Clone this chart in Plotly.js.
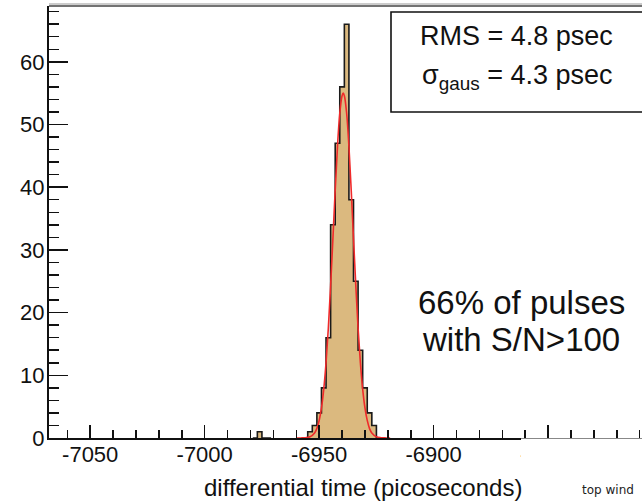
<!DOCTYPE html>
<html>
<head>
<meta charset="utf-8">
<script src="https://cdn.plot.ly/plotly-3.0.1.min.js"></script>
<style>
html,body{margin:0;padding:0;background:#fff;}
#chart{width:642px;height:501px;}
</style>
</head>
<body>
<div id="chart"></div>
<script>
// Histogram: bin left edges (ps) and counts (bin width 2 ps)
var binEdges = [-6979, -6977, -6975, -6973,
  -6957, -6955, -6953, -6951, -6949, -6947, -6945, -6943, -6941, -6939,
  -6937, -6935, -6933, -6931, -6929, -6927, -6925, -6923];
var binCounts = [0, 1, 0, 0,
  0, 1, 2, 4, 8, 16, 34, 47, 56, 66,
  38, 25, 14, 8, 4, 2, 0, 0];
var binWidth = 2;

// Gaussian fit curve
var fitX = [-6960, -6958, -6956, -6954, -6952, -6951, -6950, -6949, -6948, -6947, -6946, -6945,
  -6944, -6943, -6942, -6941, -6940, -6939.5, -6939, -6938, -6937, -6936, -6935, -6934, -6933,
  -6932, -6931, -6930, -6929, -6928, -6927, -6925, -6923, -6921, -6919];
var fitY = [0.0, 0.01, 0.04, 0.19, 0.81, 1.54, 2.79, 4.79, 7.79, 12.0, 17.5, 24.3,
  31.8, 39.5, 46.5, 51.8, 54.6, 55.0, 54.6, 51.8, 46.5, 39.5, 31.8, 24.3, 17.5,
  12.0, 7.8, 4.8, 2.8, 1.5, 0.8, 0.19, 0.04, 0.01, 0.0];

var xTickVals = [-7050, -7000, -6950, -6900, -6850];
var xTickText = ['-7050', '-7000', '-6950', '-6900', '-6850'];
var yTickVals = [0, 10, 20, 30, 40, 50, 60];
var yTickText = ['0', '10', '20', '30', '40', '50', '60'];

var statLines = ['RMS = 4.8 psec', 'σ<sub>gaus</sub> = 4.3 psec'];
var noteLines = ['66% of pulses', 'with S/N>100'];
var xTitle = 'differential time (picoseconds)';
var cornerText = 'top wind';

// Build step outline from bins (only outer outline, like a ROOT histogram)
function stepTrace(edges, counts, w) {
  var xs = [], ys = [];
  var segs = [];
  var cur = null;
  for (var i = 0; i < edges.length; i++) {
    if (cur && Math.abs(edges[i] - cur.end) < 1e-9) {
      cur.e.push(edges[i]); cur.c.push(counts[i]); cur.end = edges[i] + w;
    } else {
      cur = {e: [edges[i]], c: [counts[i]], end: edges[i] + w};
      segs.push(cur);
    }
  }
  segs.forEach(function (s, k) {
    if (k > 0) { xs.push(null); ys.push(null); }
    xs.push(s.e[0]); ys.push(0);
    for (var j = 0; j < s.e.length; j++) {
      xs.push(s.e[j]); ys.push(s.c[j]);
      xs.push(s.e[j] + w); ys.push(s.c[j]);
    }
    xs.push(s.end); ys.push(0);
  });
  return {x: xs, y: ys};
}
var st = stepTrace(binEdges, binCounts, binWidth);

var FONT = 'Liberation Sans, Arial, Helvetica, sans-serif';
var PL = 49, PW = 593, PT = 6, PH = 432;
function px(x) { return (x - PL) / PW; }
function py(y) { return (PT + PH - y) / PH; }

var traces = [
  {
    x: st.x, y: st.y, type: 'scatter', mode: 'lines',
    fill: 'toself', fillcolor: '#dbb97f',
    line: {color: '#1a1a1a', width: 1.6}, hoverinfo: 'skip', connectgaps: false
  },
  {
    x: fitX, y: fitY, type: 'scatter', mode: 'lines',
    line: {color: '#f02a2a', width: 1.6, shape: 'spline'}, hoverinfo: 'skip'
  }
];

var layout = {
  width: 642, height: 501,
  margin: {l: PL, r: 0, t: PT, b: 501 - PT - PH},
  paper_bgcolor: '#ffffff', plot_bgcolor: '#ffffff',
  showlegend: false,
  font: {family: FONT, color: '#111', size: 20},
  xaxis: {
    range: [-7068, -6809],
    tickvals: xTickVals, ticktext: xTickText,
    ticks: 'inside', ticklen: 13, tickwidth: 1.5, tickcolor: '#111',
    minor: {dtick: 10, ticks: 'inside', ticklen: 8, tickwidth: 1.5, tickcolor: '#111', showgrid: false},
    showline: true, linecolor: '#111', linewidth: 2,
    showgrid: false, zeroline: false,
    tickfont: {family: FONT, size: 22, color: '#111'},
    ticklabelstandoff: -4
  },
  yaxis: {
    range: [0, 68.9],
    tickvals: yTickVals, ticktext: yTickText,
    ticks: 'inside', ticklen: 19, tickwidth: 1.5, tickcolor: '#111',
    minor: {dtick: 2, ticks: 'inside', ticklen: 10, tickwidth: 1.5, tickcolor: '#111', showgrid: false},
    showline: true, linecolor: '#111', linewidth: 2,
    showgrid: false, zeroline: false,
    tickfont: {family: FONT, size: 22, color: '#111'},
    ticklabelstandoff: -2
  },
  shapes: [
    // top frame (double grey line)
    {type: 'line', xref: 'paper', yref: 'paper', x0: 0, x1: 1.05, y0: py(4), y1: py(4),
     line: {color: '#999', width: 1}},
    {type: 'line', xref: 'paper', yref: 'paper', x0: 0, x1: 1.05, y0: 1, y1: 1,
     line: {color: '#444', width: 1.6}},
    // stats box
    {type: 'rect', xref: 'paper', yref: 'paper',
     x0: px(391), x1: 1.02, y0: py(112), y1: py(12),
     line: {color: '#111', width: 1.6}, fillcolor: 'rgba(255,255,255,1)', layer: 'above'},
    // overlay of neighbouring picture
    {type: 'rect', xref: 'paper', yref: 'paper',
     x0: px(521), x1: 1.02, y0: -0.2, y1: py(438.6),
     line: {width: 0}, fillcolor: '#ffffff', layer: 'above'}
  ],
  annotations: [
    {xref: 'paper', yref: 'paper', x: px(516), y: py(36), xanchor: 'center', yanchor: 'middle',
     text: statLines[0], showarrow: false, font: {family: FONT, size: 27, color: '#111'}},
    {xref: 'paper', yref: 'paper', x: px(517), y: py(77), xanchor: 'center', yanchor: 'middle',
     text: statLines[1], showarrow: false, font: {family: FONT, size: 27, color: '#111'}},
    {xref: 'paper', yref: 'paper', x: px(521), y: py(302), xanchor: 'center', yanchor: 'middle',
     text: noteLines[0], showarrow: false, font: {family: FONT, size: 33, color: '#111'}},
    {xref: 'paper', yref: 'paper', x: px(521), y: py(339), xanchor: 'center', yanchor: 'middle',
     text: noteLines[1], showarrow: false, font: {family: FONT, size: 33, color: '#111'}},
    {xref: 'paper', yref: 'paper', x: px(524), y: py(487),
     xanchor: 'right', yanchor: 'middle',
     text: xTitle, showarrow: false, font: {family: FONT, size: 24, color: '#111'}},
    {xref: 'paper', yref: 'paper', x: px(580), y: py(490),
     xanchor: 'left', yanchor: 'middle',
     text: cornerText, showarrow: false, font: {family: 'DejaVu Sans, sans-serif', size: 12, color: '#222'}}
  ]
};

Plotly.newPlot('chart', traces, layout, {displayModeBar: false, staticPlot: true});
</script>
</body>
</html>
